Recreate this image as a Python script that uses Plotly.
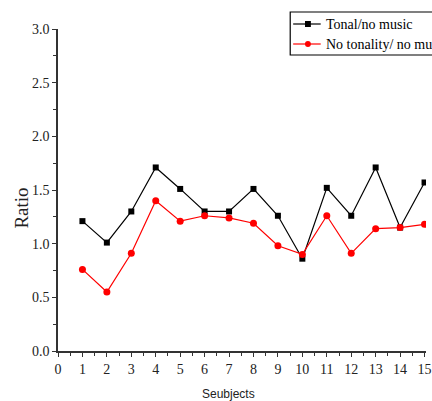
import plotly.graph_objects as go

subjects = list(range(1, 16))
tonal_no_music = [1.21, 1.01, 1.30, 1.71, 1.51, 1.30, 1.30, 1.51, 1.26, 0.86, 1.52, 1.26, 1.71, 1.15, 1.57]
no_tonality_no_music = [0.76, 0.55, 0.91, 1.40, 1.21, 1.26, 1.24, 1.19, 0.98, 0.90, 1.26, 0.91, 1.14, 1.15, 1.18]
series_names = ["Tonal/no music", "No tonality/ no music"]
x_ticks = list(range(0, 16))
y_ticks = [0.0, 0.5, 1.0, 1.5, 2.0, 2.5, 3.0]
x_title = "Seubjects"
y_title = "Ratio"

serif = "'Liberation Serif', 'Times New Roman', serif"
sans = "'Liberation Sans', Arial, sans-serif"

W, H = 432, 401
ML, MR, MT, MB = 58, 0, 29, 50
PW, PH = W - ML - MR, H - MT - MB


def px(x):
    return (x - ML) / PW


def py(y):
    return (H - MB - y) / PH


fig = go.Figure()
fig.add_trace(go.Scatter(
    x=subjects, y=tonal_no_music, mode="lines+markers", name=series_names[0],
    line=dict(color="#000000", width=1.2),
    marker=dict(symbol="square", size=6, color="#000000"),
))
fig.add_trace(go.Scatter(
    x=subjects, y=no_tonality_no_music, mode="lines+markers", name=series_names[1],
    line=dict(color="#ff0000", width=1.2),
    marker=dict(symbol="circle", size=7, color="#ff0000"),
))

axis_common = dict(
    showgrid=False, zeroline=False, showline=True, linecolor="#333333", linewidth=1.5,
    ticks="outside", ticklen=4, tickwidth=1.2, tickcolor="#333333",
    tickfont=dict(family=serif, size=14, color="#222222"),
    ticklabeloverflow="allow",
)

fig.update_xaxes(
    **axis_common, range=[0, 15.06], tickmode="array", tickvals=x_ticks,
    ticktext=[str(v) for v in x_ticks],
    minor=dict(dtick=0.5, tick0=0, ticks="outside", ticklen=3, tickcolor="#333333", tickwidth=1.2),
)
fig.update_yaxes(
    **axis_common, range=[0, 3.0], tickmode="array", tickvals=y_ticks,
    ticktext=[f"{v:.1f}" for v in y_ticks],
    minor=dict(dtick=0.25, tick0=0, ticks="outside", ticklen=3, tickcolor="#333333", tickwidth=1.2),
)

annotations = [
    dict(xref="paper", yref="paper", x=px(231), y=py(394), xanchor="center", yanchor="middle",
         text=x_title, showarrow=False, font=dict(family=sans, size=12, color="#222222")),
    dict(xref="paper", yref="paper", x=px(20), y=py(208), xanchor="center", yanchor="middle",
         text=y_title, textangle=-90, showarrow=False, font=dict(family=serif, size=19, color="#222222")),
]

# manual legend (extends past the right edge, as in the reference)
shapes = [dict(type="rect", xref="paper", yref="paper", x0=px(294), x1=px(445), y0=py(55), y1=py(12),
               line=dict(color="#000000", width=1.2), fillcolor="white", layer="above")]
colors = ["#000000", "#ff0000"]
rows = [24, 44]
for i, (name, c, ry) in enumerate(zip(series_names, colors, rows)):
    shapes.append(dict(type="line", xref="paper", yref="paper", x0=px(297), x1=px(325), y0=py(ry), y1=py(ry),
                       line=dict(color=c, width=1.2), layer="above"))
    if i == 0:
        shapes.append(dict(type="rect", xref="paper", yref="paper", x0=px(309), x1=px(315), y0=py(ry + 3), y1=py(ry - 3),
                           line=dict(color=c, width=0), fillcolor=c, layer="above"))
    else:
        shapes.append(dict(type="circle", xref="paper", yref="paper", x0=px(309), x1=px(315), y0=py(ry + 3), y1=py(ry - 3),
                           line=dict(color=c, width=0), fillcolor=c, layer="above"))
    annotations.append(dict(xref="paper", yref="paper", x=px(328), y=py(ry), xanchor="left", yanchor="middle",
                            text=name, showarrow=False, font=dict(family=serif, size=14, color="#000000")))

fig.update_layout(
    width=W, height=H,
    margin=dict(l=ML, r=MR, t=MT, b=MB),
    paper_bgcolor="white", plot_bgcolor="white",
    showlegend=False,
    shapes=shapes, annotations=annotations,
)

fig.write_html("out.html")
